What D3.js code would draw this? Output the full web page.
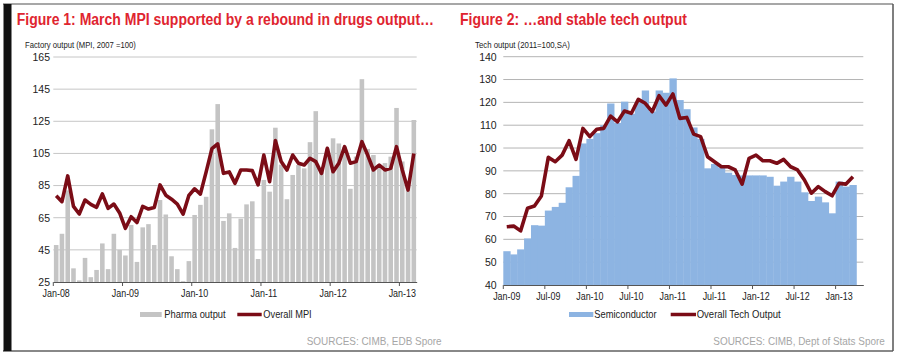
<!DOCTYPE html>
<html><head><meta charset="utf-8">
<script src="https://cdn.jsdelivr.net/npm/d3@7/dist/d3.min.js"></script>
<style>
body{margin:0;background:#fff}
svg{display:block}
text{font-family:"Liberation Sans",Arial,sans-serif}
</style>
</head><body>
<svg id="c" width="900" height="356"></svg>
<script>
// ---------------- DATA ----------------
// Figure 1 categories: Jan-08 .. Mar-13 (monthly)
const leftCats = d3.utcMonth.range(new Date(Date.UTC(2008,0,1)), new Date(Date.UTC(2013,3,1))).map(d3.utcFormat("%b-%y"));
const leftTickLabels = ["Jan-08","Jan-09","Jan-10","Jan-11","Jan-12","Jan-13"];
const leftYTicks = [25,45,65,85,105,125,145,165];
const pharmaOutput = [
  48,55,82,33.5,26,40,28,32.5,49,33,55,45,
  41.5,60.5,37.5,59,61,48,76,67,41,33,25.5,38,
  66.7,73,78,120,135.7,63,67.7,46.2,64.4,73.3,75.2,39.3,
  88.5,81.2,121,98,76.5,91.6,97.8,95.7,112,131.3,96,108,
  114.4,111.2,109,83,103,151.2,107.8,104,98,99,103,133.3,
  100,88,125.8
];
const overallMPI = [
  78.7,75,91,72,67.3,76,73.3,71.5,79.8,70.8,73.5,68,
  58.4,65.6,62,72,70.4,71.3,85.4,79,76.5,73.5,67.2,78.8,
  83,79.7,93.5,108,111,92.6,93.5,86.4,94.7,94.7,94.3,85.4,
  104,87.4,113,100,94.7,104,98.9,97.8,102,99.9,92.6,108.2,
  93.6,98.9,109.2,98.9,99.9,112.3,104,94.7,97.8,94.7,95.7,109.2,
  94.7,82.2,105
];
// Figure 2 categories: Jan-09 .. Apr-13 (last band empty)
const rightCats = d3.utcMonth.range(new Date(Date.UTC(2009,0,1)), new Date(Date.UTC(2013,4,1))).map(d3.utcFormat("%b-%y"));
const rightTickLabels = ["Jan-09","Jul-09","Jan-10","Jul-10","Jan-11","Jul-11","Jan-12","Jul-12","Jan-13"];
const rightYTicks = [40,50,60,70,80,90,100,110,120,130,140];
const semiconductor = [
  54.8,53.4,55.6,60.4,66.2,66,72.6,74.2,76,82.8,87.8,102,
  104,106.5,110,119.5,111,120.3,115,120,125.2,116,125.2,124.2,
  130.5,121,117,109,104,91.1,93,91.5,89.2,88.2,88,88,
  88,88,87.4,83.5,85.3,87.4,85.3,80.6,76.8,78.7,76.2,71.4,85.3,83.1,83.8
];
const overallTech = [
  65.5,65.8,63.7,73.6,74.6,79,95.9,94,96.9,103.2,95,108.6,
  105,108.2,108.6,114,111.5,116.2,115.2,121.3,119.6,115.9,122.9,118.8,
  123.7,113,113.4,106.1,105,96.2,94,91.8,91.8,90.4,84.2,95.5,
  96.9,94.4,94.4,93.3,95,91.8,90.4,86,80.2,83.1,80.9,79.1,84.5,84.2,87.4
];

// ---------------- STYLE ----------------
const RED_TITLE = "#df2530", LINE_RED = "#7b0c16", BAR_GRAY = "#c4c4c4", BLUE = "#8db4e2";
const svg = d3.select("#c");

function squeeze(sel, f){
  sel.each(function(){
    const t = d3.select(this);
    t.attr("transform", `scale(${f},1)`);
  });
}
function txt(x,y,s,opt){
  const t = svg.append("text").attr("x",0).attr("y",0).text(s)
    .attr("font-size",opt.size).attr("fill",opt.fill||"#222")
    .attr("font-weight",opt.bold?"bold":"normal");
  const w = t.node().getComputedTextLength();
  const k = opt.len ? opt.len/w : 1;
  t.attr("transform",`translate(${x},${y}) scale(${k},1)`);
  return t;
}

// ---------------- FRAME ----------------
svg.append("line").attr("x1",3).attr("x2",893).attr("y1",4).attr("y2",4).attr("stroke","#8a8a8a").attr("stroke-width",1.5);
svg.append("line").attr("x1",3).attr("x2",893).attr("y1",351).attr("y2",351).attr("stroke","#888").attr("stroke-width",2);
svg.append("line").attr("x1",893).attr("x2",893).attr("y1",4).attr("y2",351).attr("stroke","#555").attr("stroke-width",1.5);
svg.append("rect").attr("x",3.5).attr("y",4).attr("width",8).attr("height",347).attr("fill","#111");

// ---------------- TITLES ----------------
txt(16.7,25,"Figure 1: March MPI supported by a rebound in drugs output…",{size:16,bold:true,fill:RED_TITLE,len:418});
txt(460,25,"Figure 2: …and stable tech output",{size:16,bold:true,fill:RED_TITLE,len:227});
txt(25,48,"Factory output (MPI, 2007 =100)",{size:8.5,len:111});
txt(475,48,"Tech output (2011=100,SA)",{size:8.5,len:95});

// ---------------- FIGURE 1 ----------------
const x1 = d3.scaleBand().domain(leftCats).range([53.3,416.7]).padding(0);
const y1 = d3.scaleLinear().domain([25,165]).range([282,57]);
const bw1 = x1.bandwidth();
const g1 = svg.append("g");
g1.selectAll("line.grid").data(leftYTicks.filter(v=>v>25)).join("line")
  .attr("x1",x1.range()[0]).attr("x2",x1.range()[1])
  .attr("y1",d=>y1(d)).attr("y2",d=>y1(d))
  .attr("stroke","#c6c6c6").attr("stroke-width",1);
g1.selectAll("rect.bar").data(pharmaOutput).join("rect")
  .attr("x",(d,i)=>x1(leftCats[i])+0.6).attr("width",bw1-1.2)
  .attr("y",d=>y1(d)).attr("height",d=>y1(25)-y1(d))
  .attr("fill",BAR_GRAY);
g1.append("path").datum(overallMPI)
  .attr("d",d3.line().x((d,i)=>x1(leftCats[i])+bw1/2).y(d=>y1(d)))
  .attr("fill","none").attr("stroke",LINE_RED).attr("stroke-width",3.6)
  .attr("stroke-linejoin","round");
const ax1 = svg.append("g").attr("transform","translate(0,282)")
  .call(d3.axisBottom(x1).tickValues(leftTickLabels).tickSize(4).tickSizeOuter(0).tickPadding(4));
ax1.select(".domain").attr("stroke","#555");
ax1.selectAll(".tick line").attr("x1",-bw1/2).attr("x2",-bw1/2).attr("stroke","#555");
ax1.selectAll(".tick text").attr("font-size",10.5).attr("fill","#222").attr("font-family",null).call(squeeze,0.85);
const ay1 = svg.append("g").attr("transform","translate(53.3,0)")
  .call(d3.axisLeft(y1).tickValues(leftYTicks).tickSize(0).tickPadding(3.3));
ay1.select(".domain").remove();
ay1.selectAll(".tick text").attr("font-size",10.5).attr("fill","#222").attr("font-family",null);

// legend 1
svg.append("rect").attr("x",140).attr("y",312).attr("width",21.7).attr("height",5).attr("fill",BAR_GRAY);
txt(164.3,317.8,"Pharma output",{size:10.5,len:61.4});
svg.append("line").attr("x1",237.3).attr("x2",261.7).attr("y1",314.5).attr("y2",314.5).attr("stroke",LINE_RED).attr("stroke-width",3.5);
txt(263.3,317.8,"Overall MPI",{size:10.5,len:48.4});
txt(306.7,345,"SOURCES: CIMB, EDB Spore",{size:11,fill:"#a6a6a6",len:135});

// ---------------- FIGURE 2 ----------------
const x2 = d3.scaleBand().domain(rightCats).range([503.3,863.3]).padding(0);
const y2 = d3.scaleLinear().domain([40,140]).range([285,56.7]);
const bw2 = x2.bandwidth();
const g2 = svg.append("g");
g2.selectAll("line.grid").data(rightYTicks.filter(v=>v>40)).join("line")
  .attr("x1",x2.range()[0]).attr("x2",x2.range()[1])
  .attr("y1",d=>y2(d)).attr("y2",d=>y2(d))
  .attr("stroke","#b4b4b4").attr("stroke-width",1);
g2.selectAll("rect.bar").data(semiconductor).join("rect")
  .attr("x",(d,i)=>x2(rightCats[i])).attr("width",bw2+0.4)
  .attr("y",d=>y2(d)).attr("height",d=>y2(40)-y2(d))
  .attr("fill",BLUE);
g2.append("path").datum(overallTech)
  .attr("d",d3.line().x((d,i)=>x2(rightCats[i])+bw2/2).y(d=>y2(d)))
  .attr("fill","none").attr("stroke",LINE_RED).attr("stroke-width",3.6)
  .attr("stroke-linejoin","round");
const ax2 = svg.append("g").attr("transform","translate(0,285)")
  .call(d3.axisBottom(x2).tickValues(rightTickLabels).tickSize(4).tickSizeOuter(0).tickPadding(4));
ax2.select(".domain").attr("stroke","#555");
ax2.selectAll(".tick line").attr("x1",-bw2/2).attr("x2",-bw2/2).attr("stroke","#555");
ax2.selectAll(".tick text").attr("font-size",10.5).attr("fill","#222").attr("font-family",null).call(squeeze,0.85);
const ay2 = svg.append("g").attr("transform","translate(503.3,0)")
  .call(d3.axisLeft(y2).tickValues(rightYTicks).tickSize(0).tickPadding(6.6));
ay2.select(".domain").remove();
ay2.selectAll(".tick text").attr("font-size",10.5).attr("fill","#222").attr("font-family",null);

// legend 2
svg.append("rect").attr("x",569).attr("y",312).attr("width",24.3).attr("height",5).attr("fill",BLUE);
txt(594.3,317.8,"Semiconductor",{size:10.5,len:62.4});
svg.append("line").attr("x1",670.7).attr("x2",696).attr("y1",314.5).attr("y2",314.5).attr("stroke",LINE_RED).attr("stroke-width",3.5);
txt(696.7,317.8,"Overall Tech Output",{size:10.5,len:84});
txt(713.3,345,"SOURCES: CIMB, Dept of Stats Spore",{size:11,fill:"#a6a6a6",len:171.7});
</script>
</body></html>
